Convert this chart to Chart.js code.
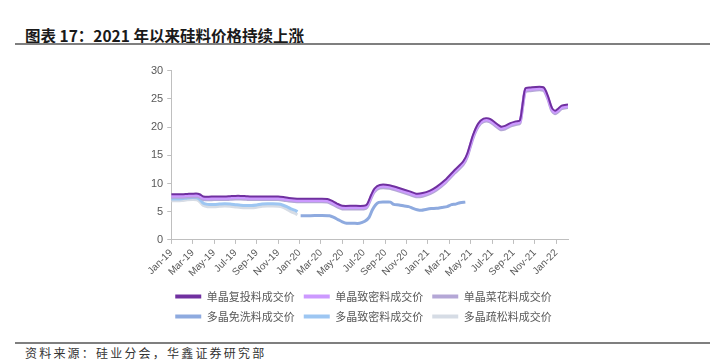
<!DOCTYPE html>
<html>
<head>
<meta charset="utf-8">
<script src="https://cdn.jsdelivr.net/npm/chart.js@4.4.1/dist/chart.umd.min.js"></script>
<style>
  body { margin: 0; width: 724px; height: 360px; background: #fff; position: relative; overflow: hidden; font-family: "Noto Sans CJK SC", sans-serif; }
  #title { position: absolute; left: 25px; top: 25px; font-size: 15.5px; font-weight: bold; color: #1a1a1a; line-height: 20px; white-space: nowrap; }
  .rule { position: absolute; left: 15px; width: 695px; height: 2px; background: #7f7f7f; }
  #source { position: absolute; left: 25px; top: 344px; font-size: 12px; letter-spacing: 2.2px; color: #333; line-height: 18px; white-space: nowrap; }
  #wrap { position: absolute; left: 125px; top: 60px; width: 487px; height: 272px; }
</style>
</head>
<body>
<div id="title">图表 17：2021 年以来硅料价格持续上涨</div>
<div class="rule" style="top:43px"></div>
<div id="wrap"><canvas id="myChart"></canvas></div>
<div class="rule" style="top:342px"></div>
<div id="source">资料来源：硅业分会，华鑫证券研究部</div>
<script>
// x = months since Jan-19
var tickLabels = ["Jan-19", "Mar-19", "May-19", "Jul-19", "Sep-19", "Nov-19", "Jan-20", "Mar-20", "May-20",
    "Jul-20", "Sep-20", "Nov-20", "Jan-21", "Mar-21", "May-21", "Jul-21", "Sep-21", "Nov-21", "Jan-22"];

var seriesNames = ["单晶复投料成交价", "单晶致密料成交价", "单晶菜花料成交价",
    "多晶免洗料成交价", "多晶致密料成交价", "多晶疏松料成交价"];

var monoMonths = [0, 0.5, 1, 1.5, 2, 2.5, 2.7, 3.0, 3.5, 4, 5, 5.5, 6, 6.5, 7, 7.5, 8, 9, 10, 10.5, 11, 11.5, 12, 13, 14,
    14.6, 15, 15.5, 16, 17, 18, 18.3, 18.7, 19.0, 19.5, 20.4, 21.3, 22.3, 22.9, 23.5, 24.2, 24.8, 25.6, 26.5, 27.3,
    27.7, 28.2, 28.7, 29.2, 29.8, 30.8, 31.2, 31.7, 32.2, 32.6, 32.85, 33.1, 33.5, 34.8, 35.2, 35.6, 35.9, 36.2, 36.5, 37.1];

var monoFuTou = [8.1, 8.1, 8.1, 8.15, 8.2, 8.2, 8.05, 7.7, 7.65, 7.7, 7.7, 7.75, 7.8, 7.8, 7.75, 7.7, 7.7, 7.7, 7.7, 7.6,
    7.45, 7.35, 7.3, 7.3, 7.3, 7.25, 6.95, 6.45, 6.05, 6.05, 6.05, 6.3, 8.0, 9.1, 9.75, 9.7, 9.2, 8.6, 8.2, 8.3, 8.75,
    9.4, 10.6, 12.4, 13.9, 15.4, 18.5, 20.6, 21.5, 21.45, 20.1, 20.2, 20.7, 21.0, 21.2, 24.0, 26.8, 27.0, 27.05, 25.6,
    23.4, 22.9, 23.3, 23.8, 24.0];

var monoZhiMi = [7.8, 7.8, 7.8, 7.85, 7.9, 7.9, 7.75, 7.4, 7.35, 7.4, 7.4, 7.45, 7.5, 7.5, 7.45, 7.4, 7.4, 7.4, 7.4, 7.3,
    7.15, 7.05, 7.0, 7.0, 7.0, 6.95, 6.65, 6.15, 5.75, 5.75, 5.75, 6.0, 7.7, 8.8, 9.45, 9.4, 8.9, 8.3, 7.9, 8.0, 8.45,
    9.1, 10.3, 12.1, 13.6, 15.1, 18.2, 20.3, 21.2, 21.15, 19.8, 19.9, 20.4, 20.7, 20.9, 23.7, 26.5, 26.7, 26.75, 25.3,
    23.1, 22.6, 23.0, 23.5, 23.7];

var monoCaiHua = [7.55, 7.55, 7.55, 7.6, 7.65, 7.65, 7.5, 7.15, 7.1, 7.15, 7.15, 7.2, 7.25, 7.25, 7.2, 7.15, 7.15, 7.15,
    7.15, 7.05, 6.9, 6.8, 6.75, 6.75, 6.75, 6.7, 6.4, 5.9, 5.5, 5.5, 5.5, 5.75, 7.45, 8.55, 9.2, 9.15, 8.65, 8.05, 7.65,
    7.75, 8.2, 8.85, 10.05, 11.85, 13.35, 14.85, 17.95, 20.05, 20.95, 20.9, 19.55, 19.65, 20.15, 20.45, 20.65, 23.45,
    26.25, 26.45, 26.5, 25.05, 22.85, 22.35, 22.75, 23.25, 23.45];

var polyMonths = [0, 0.5, 1, 1.5, 2, 2.4, 2.7, 3.0, 3.4, 4, 4.5, 5, 5.5, 6, 6.5, 7, 7.5, 8, 8.5, 9, 9.5, 10, 10.4,
    10.8, 11.2, 11.6, 11.8];
var polyZhiMi = [7.25, 7.25, 7.3, 7.45, 7.5, 7.45, 7.1, 6.5, 6.3, 6.3, 6.35, 6.4, 6.35, 6.25, 6.15, 6.1, 6.1, 6.2,
    6.35, 6.4, 6.4, 6.35, 6.2, 5.9, 5.5, 5.25, 5.0];
var polyShuSong = [6.95, 6.95, 7.0, 7.1, 7.15, 7.1, 6.7, 6.1, 5.9, 5.9, 5.95, 6.0, 5.95, 5.85, 5.75, 5.7, 5.7, 5.8,
    5.95, 6.0, 6.0, 5.95, 5.8, 5.45, 5.0, 4.7, 4.45];

var mianXiMonths = [12.1, 13, 14, 14.8, 15.2, 15.6, 16, 16.4, 17, 17.6, 18.1, 18.5, 18.8, 19.1, 19.4, 20, 20.5, 20.8,
    21.3, 21.8, 22.2, 22.6, 23, 23.4, 23.8, 24.3, 24.8, 25.3, 25.8, 26.2, 26.6, 27.0, 27.5];
var polyMianXi = [4.3, 4.3, 4.35, 4.3, 4.0, 3.6, 3.2, 2.95, 2.95, 2.95, 3.3, 4.0, 5.3, 6.2, 6.65, 6.7, 6.7, 6.3, 6.2,
    6.0, 5.9, 5.6, 5.35, 5.25, 5.4, 5.55, 5.6, 5.75, 5.9, 6.25, 6.35, 6.6, 6.7];

var colors = ["#7030a0", "#cc99ff", "#b4a7d6", "#8eaadf", "#9dc6f2", "#d6dce5"];

function pts(xs, ys) {
    return xs.map(function(x, i) { return {x: x, y: ys[i]}; });
}

function line(idx, data, width) {
    return {
        label: seriesNames[idx],
        data: data,
        borderColor: colors[idx],
        backgroundColor: colors[idx],
        borderWidth: width,
        pointRadius: 0,
        tension: 0.25,
        fill: false
    };
}

// nudge the legend a little right, as in the original
var legendShift = {
    id: 'legendShift',
    afterLayout: function(chart) {
        chart.legend.left += 6;
        chart.legend.right += 6;
    }
};

var ctx = document.getElementById("myChart");
var myChart = new Chart(ctx, {
    type: 'line',
    data: {
        datasets: [
            line(0, pts(monoMonths, monoFuTou), 2),
            line(1, pts(monoMonths, monoZhiMi), 3),
            line(2, pts(monoMonths, monoCaiHua), 3),
            line(3, pts(mianXiMonths, polyMianXi), 3),
            line(4, pts(polyMonths, polyZhiMi), 3),
            line(5, pts(polyMonths, polyShuSong), 3)
        ]
    },
    plugins: [legendShift],
    options: {
        responsive: true,
        maintainAspectRatio: false,
        animation: false,
        layout: { padding: { left: 22, right: 44, top: 4, bottom: 0 } },
        plugins: {
            tooltip: { enabled: false },
            legend: {
                position: 'bottom',
                labels: {
                    usePointStyle: true,
                    pointStyle: 'line',
                    pointStyleWidth: 26,
                    padding: 9,
                    color: '#595959',
                    font: { family: '"Noto Sans CJK SC", sans-serif', size: 11 },
                    generateLabels: function(chart) {
                        return Chart.defaults.plugins.legend.labels.generateLabels(chart).map(function(l) {
                            l.lineWidth = 4;
                            return l;
                        });
                    }
                }
            }
        },
        scales: {
            x: {
                type: 'linear',
                min: 0,
                max: 37.1,
                afterBuildTicks: function(axis) {
                    axis.ticks = tickLabels.map(function(t, i) { return {value: i * 2}; });
                },
                ticks: {
                    autoSkip: false,
                    minRotation: 45,
                    maxRotation: 45,
                    color: '#595959',
                    font: { family: '"Liberation Sans", Arial, sans-serif', size: 10 },
                    callback: function(v) { return tickLabels[Math.round(v / 2)]; }
                },
                grid: { drawOnChartArea: false, drawTicks: true, tickLength: 4, color: '#bfbfbf' },
                border: { color: '#bfbfbf' }
            },
            y: {
                min: 0,
                max: 30,
                ticks: {
                    stepSize: 5,
                    color: '#595959',
                    padding: 4,
                    font: { family: '"Liberation Sans", Arial, sans-serif', size: 11 }
                },
                grid: { drawOnChartArea: false, drawTicks: true, tickLength: 4, color: '#bfbfbf' },
                border: { color: '#bfbfbf' }
            }
        }
    }
});
</script>
</body>
</html>
